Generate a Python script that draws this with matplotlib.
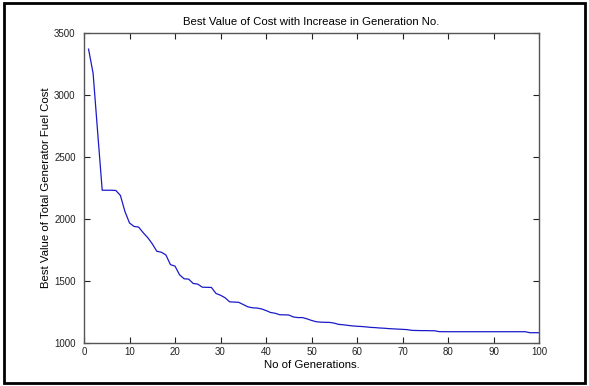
import matplotlib
matplotlib.use("Agg")
import matplotlib.pyplot as plt
from matplotlib.patches import Rectangle

# best cost per generation
generations = list(range(1, 101))
best_cost = [
    3370, 3175, 2700, 2232, 2232, 2232, 2230, 2190, 2060, 1968,
    1940, 1935, 1890, 1850, 1800, 1740, 1732, 1710, 1632, 1620,
    1550, 1518, 1515, 1480, 1475, 1450, 1449, 1448, 1400, 1385,
    1365, 1332, 1330, 1328, 1310, 1292, 1284, 1282, 1275, 1262,
    1246, 1240, 1228, 1227, 1226, 1210, 1205, 1205, 1195, 1182,
    1172, 1168, 1167, 1166, 1160, 1150, 1147, 1142, 1138, 1135,
    1133, 1130, 1126, 1124, 1121, 1119, 1116, 1114, 1112, 1110,
    1108, 1102, 1101, 1100, 1100, 1099, 1099, 1092, 1091, 1091,
    1091, 1091, 1091, 1091, 1091, 1091, 1091, 1091, 1091, 1091,
    1091, 1091, 1091, 1091, 1091, 1091, 1091, 1083, 1083, 1083,
]
x_ticks = list(range(0, 101, 10))
y_ticks = [1000, 1500, 2000, 2500, 3000, 3500]

plt.rcParams['font.family'] = ['Liberation Sans', 'DejaVu Sans']

fig = plt.figure(figsize=(5.89, 3.86), dpi=100)
fig.patch.set_facecolor('white')
ax = fig.add_axes([84 / 589, 1 - 343 / 386, 455 / 589, 310 / 386])

ax.plot(generations, best_cost, color='#1a1ac8', lw=0.9)

ax.set_xlim(0, 100)
ax.set_ylim(1000, 3500)
ax.set_xticks(x_ticks)
ax.set_yticks(y_ticks)
ax.tick_params(direction='in', length=4, width=0.8, labelsize=7, colors='#222222',
               top=True, right=True)
ax.tick_params(axis='y', pad=6)
ax.tick_params(axis='x', pad=3)
for s in ax.spines.values():
    s.set_color('#555555')
    s.set_linewidth(1.0)

ax.set_title('Best Value of Cost with Increase in Generation No.', fontsize=8.2, pad=6)
ax.set_xlabel('No of Generations.', fontsize=8.2, labelpad=2)
ax.set_ylabel('Best Value of Total Generator Fuel Cost', fontsize=8.2, labelpad=2)

# black frame round the whole picture
fig.patches.append(Rectangle((4 / 589, 3 / 386), 581 / 589, 380 / 386, transform=fig.transFigure,
                             fill=False, edgecolor='black', linewidth=2))

fig.savefig('out.png', dpi=100)
